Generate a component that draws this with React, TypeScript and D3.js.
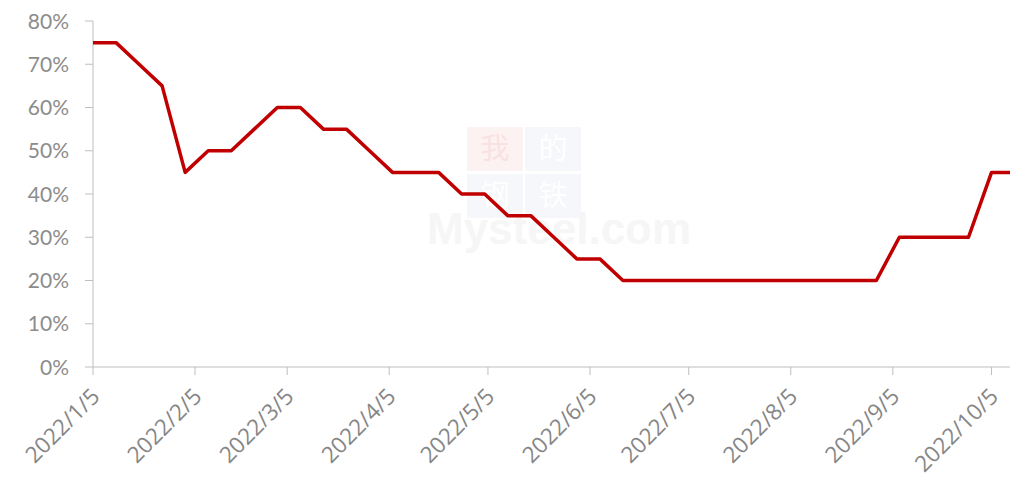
import React from "react";
import { scaleLinear, scaleTime, line, timeParse, timeFormat } from "d3";

const parseDate = timeParse("%Y-%m-%d");

// weekly readings, percent
const dates = [
  "2022-01-05", "2022-01-12", "2022-01-19", "2022-01-26", "2022-02-02",
  "2022-02-09", "2022-02-16", "2022-02-23", "2022-03-02", "2022-03-09",
  "2022-03-16", "2022-03-23", "2022-03-30", "2022-04-06", "2022-04-13",
  "2022-04-20", "2022-04-27", "2022-05-04", "2022-05-11", "2022-05-18",
  "2022-05-25", "2022-06-01", "2022-06-08", "2022-06-15", "2022-06-22",
  "2022-06-29", "2022-07-06", "2022-07-13", "2022-07-20", "2022-07-27",
  "2022-08-03", "2022-08-10", "2022-08-17", "2022-08-24", "2022-08-31",
  "2022-09-07", "2022-09-14", "2022-09-21", "2022-09-28", "2022-10-05",
  "2022-10-12",
];
const values = [
  75, 75, 70, 65, 45,
  50, 50, 55, 60, 60,
  55, 55, 50, 45, 45,
  45, 40, 40, 35, 35,
  30, 25, 25, 20, 20,
  20, 20, 20, 20, 20,
  20, 20, 20, 20, 20,
  30, 30, 30, 30, 45,
  45,
];
const xTicks = [
  "2022-01-05", "2022-02-05", "2022-03-05", "2022-04-05", "2022-05-05",
  "2022-06-05", "2022-07-05", "2022-08-05", "2022-09-05", "2022-10-05",
];
const yTicks = [0, 10, 20, 30, 40, 50, 60, 70, 80];
const watermarkChars = ["我", "的", "钢", "铁"];

const width = 1010;
const height = 484;
const left = 93;
const right = 1008;
const top = 21;
const bottom = 367;

export default function App() {
  const data = dates.map((d, i) => ({ date: parseDate(d) as Date, value: values[i] }));
  const x = scaleTime()
    .domain([parseDate("2022-01-05") as Date, parseDate("2022-10-10") as Date])
    .range([left, right]);
  const y = scaleLinear().domain([0, 80]).range([bottom, top]);
  const fmt = timeFormat("%Y/%-m/%-d");
  const path = line<{ date: Date; value: number }>()
    .x((d) => x(d.date))
    .y((d) => y(d.value))(data);

  return (
    <svg
      width={width}
      height={height}
      style={{ position: "absolute", left: 0, top: 0, background: "#fff" }}
    >
      <defs>
        <clipPath id="plot">
          <rect x={left} y={0} width={right - left + 2} height={bottom + 5} />
        </clipPath>
      </defs>
      {/* watermark */}
      <g opacity={0.5}>
        {watermarkChars.map((c, i) => {
          const bx = 467 + (i % 2) * 58;
          const by = 127 + Math.floor(i / 2) * 47;
          return (
            <g key={c}>
              <rect x={bx} y={by} width={56} height={44} fill={i === 0 ? "#fde6e6" : "#eef1f8"} />
              <text
                x={bx + 28}
                y={by + 32}
                textAnchor="middle"
                fontSize={29}
                fill={i === 0 ? "#f6c4c4" : "#ffffff"}
                fontFamily="Noto Sans CJK SC"
              >
                {c}
              </text>
            </g>
          );
        })}
        <text x={427} y={244} fontSize={44} fontWeight="bold" fill="#eeeeee" fontFamily="Arial, Liberation Sans">
          Mysteel.com
        </text>
      </g>
      {/* axes */}
      <line x1={left} x2={left} y1={top} y2={bottom} stroke="#bfbfbf" strokeWidth={1} />
      <line x1={left} x2={width} y1={bottom} y2={bottom} stroke="#bfbfbf" strokeWidth={1} />
      {yTicks.map((t) => (
        <g key={t} transform={`translate(0, ${y(t)})`}>
          <line x1={left - 8} x2={left} stroke="#bfbfbf" />
          <text
            x={69}
            dy="0.36em"
            textAnchor="end"
            fontSize={21}
            fill="#8c8c8c"
            fontFamily="Lato, 'Open Sans', sans-serif"
          >
            {t}%
          </text>
        </g>
      ))}
      {xTicks.map((t) => {
        const tx = x(parseDate(t) as Date);
        return (
          <g key={t}>
            <line x1={tx} x2={tx} y1={bottom} y2={bottom + 8} stroke="#bfbfbf" />
            <text
              transform={`translate(${tx + 8}, ${bottom + 31}) rotate(-45)`}
              textAnchor="end"
              fontSize={22.5}
              fill="#868686"
              fontFamily="'Open Sans', sans-serif"
            >
              {fmt(parseDate(t) as Date)}
            </text>
          </g>
        );
      })}
      <path
        d={path ?? ""}
        fill="none"
        stroke="#c00000"
        strokeWidth={3.5}
        strokeLinejoin="round"
        clipPath="url(#plot)"
      />
    </svg>
  );
}
